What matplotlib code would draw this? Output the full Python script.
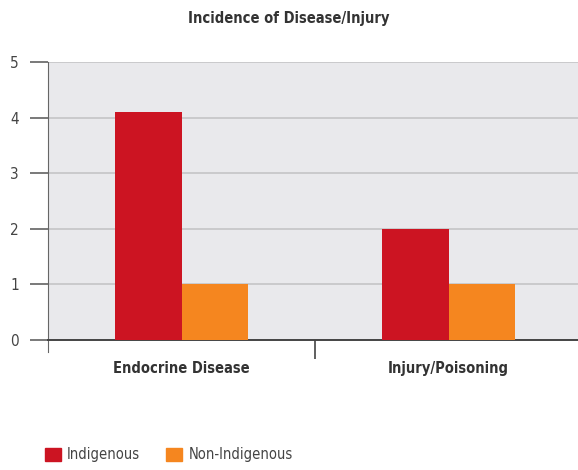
import matplotlib
matplotlib.use("Agg")
import matplotlib.pyplot as plt
import numpy as np
from matplotlib.patches import Patch

plt.rcParams['font.family'] = ['DejaVu Sans']
plt.rcParams['font.stretch'] = 'condensed'

categories = ['Endocrine Disease', 'Injury/Poisoning']
indigenous = [4.1, 2.0]
non_indigenous = [1.0, 1.0]
series_names = ['Indigenous', 'Non-Indigenous']
colors = ['#cc1422', '#f5861f']

fig = plt.figure(figsize=(5.78, 4.70), dpi=100)
ax = fig.add_axes([48/578, 1 - 340/470, 530/578, 278/470])
ax.set_facecolor('#e9e9ec')

x = np.arange(len(categories))
w = 0.25
ax.bar(x - w/2, indigenous, w, color=colors[0], zorder=3)
ax.bar(x + w/2, non_indigenous, w, color=colors[1], zorder=3)

ax.set_ylim(0, 5)
ax.set_xlim(-0.5, -0.5 + 530/267)
ax.set_yticks(range(6))
ax.yaxis.grid(True, color='#c4c4c6', linewidth=1.2, zorder=1)

# category labels sit between the boundary ticks
ax.set_xticks([0.5])
ax.set_xticklabels([])
ax.set_xticks(x, minor=True)
ax.set_xticklabels(categories, minor=True, fontsize=10.5, fontweight='bold', color='#333333')
ax.tick_params(axis='x', which='minor', length=0, pad=15)
ax.tick_params(axis='x', which='major', length=14, direction='out', color='#444444', width=1.2)
ax.tick_params(axis='y', length=13, direction='out', color='#555555', width=1.1,
               labelsize=11, labelcolor='#444444', pad=8)

for s in ['top', 'right']:
    ax.spines[s].set_visible(False)
ax.spines['left'].set_color('#666666')
ax.spines['left'].set_bounds(-0.22, 5)
ax.spines['bottom'].set_color('#444444')
ax.spines['bottom'].set_linewidth(1.4)

fig.text(0.5, 1 - 18/470, 'Incidence of Disease/Injury', ha='center', va='center',
         fontsize=10.5, fontweight='bold', color='#333333')

handles = [Patch(color=c) for c in colors]
fig.legend(handles, series_names, loc='center left', bbox_to_anchor=(32/578, 1 - 455/470),
           ncol=2, frameon=False, fontsize=10.5, handlelength=1.1, handleheight=1.0,
           handletextpad=0.4, columnspacing=1.8, labelcolor='#444444')

fig.savefig('out.png', dpi=100)
